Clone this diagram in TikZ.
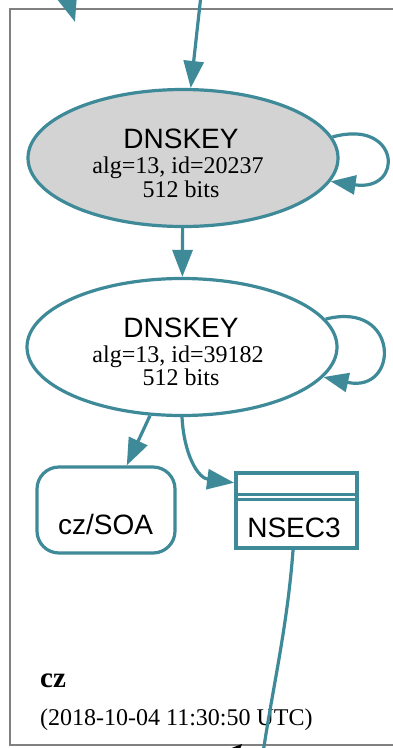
\documentclass[tikz,border=0pt]{standalone}
\usepackage{fontspec}
\setmainfont{Liberation Serif}
\setsansfont{Liberation Sans}
\usetikzlibrary{arrows.meta,shapes.geometric}
\definecolor{secure}{RGB}{62,138,153}
\definecolor{zoneline}{RGB}{128,128,128}
\definecolor{keyfill}{RGB}{211,211,211}
\tikzset{
  edge/.style={draw=secure, line width=3.2pt, -{Triangle[length=27pt,width=20pt]}},
  loopedge/.style={draw=secure, line width=3.2pt, -{Triangle[length=25pt,width=19pt]}},
  keynode/.style={ellipse, draw=secure, line width=3.2pt, minimum width=310pt, minimum height=137pt, inner sep=0pt},
  head/.style={font=\sffamily\fontsize{28}{28}\selectfont, anchor=base, inner sep=0pt},
  sub/.style={font=\rmfamily\fontsize{24}{24}\selectfont, anchor=base, inner sep=0pt},
}
\begin{document}
\begin{tikzpicture}[x=1pt,y=-1pt]
\useasboundingbox (0,0) rectangle (393,748);
\clip (0,0) rectangle (393,748);
\fill[white] (0,0) rectangle (393,748);

% zone cluster
\draw[zoneline, line width=1.6pt] (420,9) -- (10,9) -- (10,745) -- (420,745);

% DNSKEY nodes
\node[keynode, fill=keyfill] (k1) at (183,158) {};
\node[head] (k1a) at (181,148) {DNSKEY};
\node[sub] (k1b) at (178,173) {alg=13, id=20237};
\node[sub] (k1c) at (181,197) {512 bits};

\node[keynode, fill=white] (k2) at (182,347) {};
\node[head] (k2a) at (181,337) {DNSKEY};
\node[sub] (k2b) at (178,362) {alg=13, id=39182};
\node[sub] (k2c) at (181,385) {512 bits};

% SOA record
\node[draw=secure, line width=3.2pt, rounded corners=22pt, minimum width=138pt, minimum height=86pt, inner sep=0pt] (soa) at (106,510) {};
\node[head] (soat) at (105.5,534) {cz/SOA};

% NSEC3 record
\node[draw=secure, line width=3.8pt, minimum width=121pt, minimum height=75pt, inner sep=0pt] (nsec) at (296.5,510.5) {};
\coordinate (nsl1) at (236,494.5);
\coordinate (nsr1) at (357,494.5);
\coordinate (nsl2) at (236,499.5);
\coordinate (nsr2) at (357,499.5);
\draw[secure, line width=2.8pt] (nsl1) -- (nsr1);
\draw[secure, line width=2.8pt] (nsl2) -- (nsr2);
\node[head] (nsect) at (294,537) {NSEC3};

% zone label
\node[font=\rmfamily\bfseries\fontsize{29}{29}\selectfont, anchor=base west, inner sep=0pt] (zname) at (40,687) {cz};
\node[sub, anchor=base west] (ztime) at (40,725) {(2018-10-04 11:30:50 UTC)};

% connectors
\coordinate (topin) at (201,-5);
\coordinate (tlfrom) at (64,-14);
\coordinate (tlto) at (75,22);
\coordinate (botout) at (262,760);
\draw[edge] (tlfrom) -- (tlto);
\draw[edge] (topin) -- (k1);
\draw[edge] (k1) -- (k2);
\draw[loopedge] (k1.8) .. controls (400,118) and (405,192) .. (k1.-9);
\draw[loopedge] (k2.11) .. controls (400,300) and (400,394) .. (k2.-12);
\draw[edge] (k2) -- (soa);
\draw[edge] (k2.south) .. controls (184,455) and (198,478) .. (nsec.156);
\draw[secure, line width=3.2pt] (nsec.-95) .. controls (287,630) and (272,690) .. (botout);

% black arrow tip entering from below
\coordinate (bkA) at (229,749);
\coordinate (bkB) at (242,744);
\coordinate (bkC) at (240,749);
\fill[black] (bkA) -- (bkB) -- (bkC) -- cycle;
\end{tikzpicture}
\end{document}
